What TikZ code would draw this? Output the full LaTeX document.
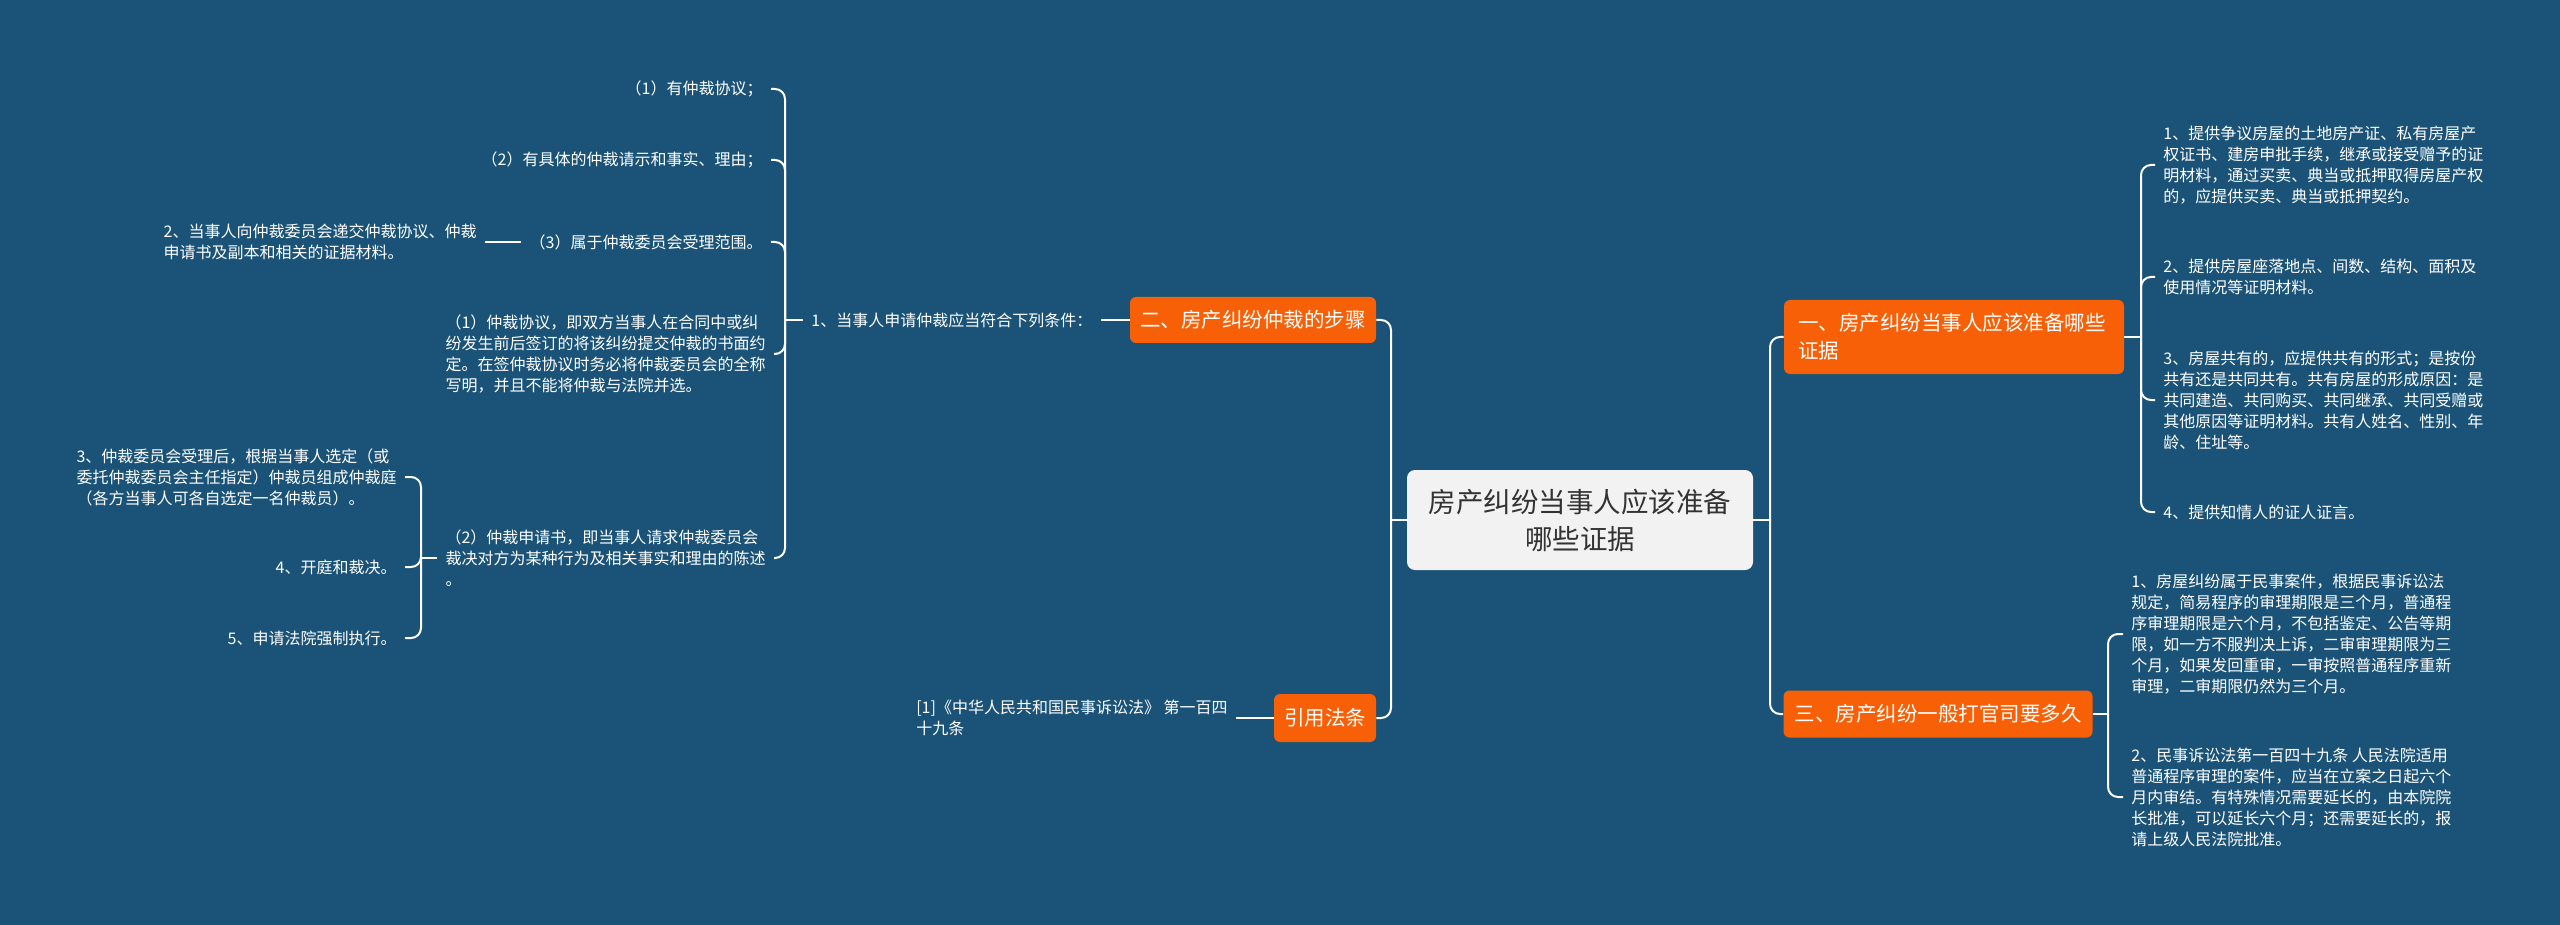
\documentclass[tikz,border=0pt]{standalone}
\usepackage{fontspec}
\setmainfont{Noto Sans CJK SC}
\usepackage{tikz}
\usetikzlibrary{positioning}
\definecolor{bgblue}{RGB}{26,83,119}
\definecolor{topicorange}{RGB}{248,96,8}
\definecolor{rootgray}{RGB}{242,242,242}
\definecolor{roottext}{RGB}{51,51,51}

\begin{document}
\begin{tikzpicture}[x=0.5pt, y=-0.5pt,
    root/.style={rectangle, rounded corners=4pt, fill=rootgray, text=roottext, align=center, minimum width=173pt, minimum height=50pt, font=\fontsize{13.75}{18.5}\selectfont},
    topic/.style={rectangle, rounded corners=3pt, fill=topicorange, text=white, inner xsep=4.5pt, font=\fontsize{10.25}{14}\selectfont},
    leaf/.style={text=white, align=left, inner xsep=4pt, inner ysep=2pt, font=\fontsize{8}{10.5}\selectfont},
    link/.style={draw=white, line width=1pt, rounded corners=5pt}
]
\fill[bgblue] (0,0) rectangle (2560,925);
\useasboundingbox (0,0) rectangle (2560,925);

\node[root] (root) at (1580,520) {房产纠纷当事人应该准备\\哪些证据};

% right side
\node[topic, align=left, text width=156pt, inner xsep=7pt, minimum height=37pt] (sec1) at (1954,337) {一、房产纠纷当事人应该准备哪些\\证据};
\node[topic, minimum width=154.5pt, minimum height=23.5pt] (sec3) at (1938,714) {三、房产纠纷一般打官司要多久};

\node[leaf, anchor=west] (ev1) at (2155,165) {1、提供争议房屋的土地房产证、私有房屋产\\权证书、建房申批手续，继承或接受赠予的证\\明材料，通过买卖、典当或抵押取得房屋产权\\的，应提供买卖、典当或抵押契约。};
\node[leaf, anchor=west] (ev2) at (2155,277) {2、提供房屋座落地点、间数、结构、面积及\\使用情况等证明材料。};
\node[leaf, anchor=west] (ev3) at (2155,400) {3、房屋共有的，应提供共有的形式；是按份\\共有还是共同共有。共有房屋的形成原因：是\\共同建造、共同购买、共同继承、共同受赠或\\其他原因等证明材料。共有人姓名、性别、年\\龄、住址等。};
\node[leaf, anchor=west] (ev4) at (2155,512) {4、提供知情人的证人证言。};

\node[leaf, anchor=west] (term1) at (2123,634) {1、房屋纠纷属于民事案件，根据民事诉讼法\\规定，简易程序的审理期限是三个月，普通程\\序审理期限是六个月，不包括鉴定、公告等期\\限，如一方不服判决上诉，二审审理期限为三\\个月，如果发回重审，一审按照普通程序重新\\审理，二审期限仍然为三个月。};
\node[leaf, anchor=west] (term2) at (2123,797) {2、民事诉讼法第一百四十九条 人民法院适用\\普通程序审理的案件，应当在立案之日起六个\\月内审结。有特殊情况需要延长的，由本院院\\长批准，可以延长六个月；还需要延长的，报\\请上级人民法院批准。};

% left side
\node[topic, minimum width=123pt, minimum height=23pt] (sec2) at (1253,320) {二、房产纠纷仲裁的步骤};
\node[topic, minimum width=51pt, minimum height=24pt] (cite) at (1325,718) {引用法条};
\node[leaf, anchor=east] (law) at (1236,718) {[1]《中华人民共和国民事诉讼法》 第一百四\\十九条};

\node[leaf, anchor=west] (cond) at (803,320) {1、当事人申请仲裁应当符合下列条件：};
\node[leaf, anchor=east] (cond1) at (771,89) {（1）有仲裁协议；};
\node[leaf, anchor=east] (cond2) at (771,160) {（2）有具体的仲裁请示和事实、理由；};
\node[leaf, anchor=east] (cond3) at (771,242) {（3）属于仲裁委员会受理范围。};
\node[leaf, anchor=east] (submit) at (485,242) {2、当事人向仲裁委员会递交仲裁协议、仲裁\\申请书及副本和相关的证据材料。};
\node[leaf, anchor=east] (agree) at (774,354) {（1）仲裁协议，即双方当事人在合同中或纠\\纷发生前后签订的将该纠纷提交仲裁的书面约\\定。在签仲裁协议时务必将仲裁委员会的全称\\写明，并且不能将仲裁与法院并选。};
\node[leaf, anchor=east] (apply) at (774,558) {（2）仲裁申请书，即当事人请求仲裁委员会\\裁决对方为某种行为及相关事实和理由的陈述\\。};
\node[leaf, anchor=east] (panel) at (405,477) {3、仲裁委员会受理后，根据当事人选定（或\\委托仲裁委员会主任指定）仲裁员组成仲裁庭\\（各方当事人可各自选定一名仲裁员）。};
\node[leaf, anchor=east] (hear) at (405,567) {4、开庭和裁决。};
\node[leaf, anchor=east] (enforce) at (405,638) {5、申请法院强制执行。};

% connectors
\coordinate (jr) at (1770,520);
\coordinate (jl) at (1391,520);
\coordinate (j1) at (2141,337);
\coordinate (j3) at (2108,714);
\coordinate (jc) at (785,320);
\coordinate (ja) at (421,558);

\draw[link] (root.east) -- (jr);
\draw[link] (jr) |- (sec1.west);
\draw[link] (jr) |- (sec3.west);
\draw[link] (root.west) -- (jl);
\draw[link] (jl) |- (sec2.east);
\draw[link] (jl) |- (cite.east);

\draw[link] (sec1.east) -- (j1);
\foreach \n in {ev1,ev2,ev3,ev4}
  \draw[link] (j1) |- (\n.west);
\draw[link] (sec3.east) -- (j3);
\foreach \n in {term1,term2}
  \draw[link] (j3) |- (\n.west);

\draw[link] (cite.west) -- (law.east);
\draw[link] (sec2.west) -- (cond.east);
\draw[link] (cond.west) -- (jc);
\foreach \n in {cond1,cond2,cond3,agree,apply}
  \draw[link] (jc) |- (\n.east);
\draw[link] (cond3.west) -- (submit.east);
\draw[link] (apply.west) -- (ja);
\foreach \n in {panel,hear,enforce}
  \draw[link] (ja) |- (\n.east);

\end{tikzpicture}
\end{document}
